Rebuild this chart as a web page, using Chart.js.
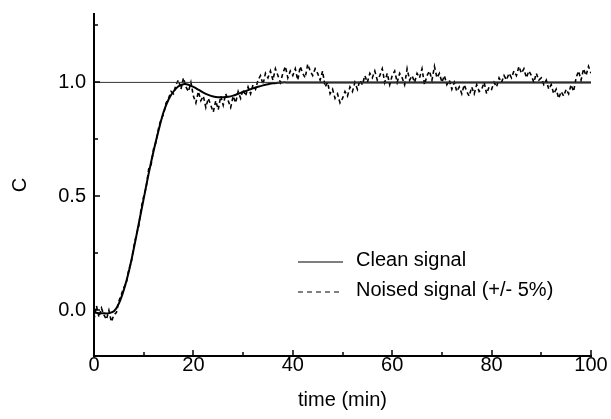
<!DOCTYPE html>
<html>
<head>
<meta charset="utf-8">
<script src="https://cdn.jsdelivr.net/npm/chart.js@4.4.0/dist/chart.umd.min.js"></script>
<style>
html, body { margin: 0; padding: 0; background: #fff; }
#wrap { width: 611px; height: 419px; position: relative; }
</style>
</head>
<body>
<div id="wrap"><canvas id="stepChart"></canvas></div>
<script>
// Clean signal
const cleanTime = [0, 1, 2, 3, 4, 5, 6, 7, 8, 9, 10, 11, 12, 13, 14, 15, 16, 17, 18, 19, 20,
    21, 22, 23, 24, 25, 26, 27, 28, 29, 30, 31, 32, 33, 34, 35, 36, 37, 38, 39, 40,
    50, 60, 70, 80, 90, 100];
const cleanValues = [-0.01, -0.012, -0.013, -0.012, -0.004, 0.03, 0.09, 0.17, 0.27, 0.38, 0.49,
    0.60, 0.70, 0.79, 0.87, 0.925, 0.96, 0.983, 0.992, 0.99, 0.98,
    0.968, 0.955, 0.945, 0.938, 0.935, 0.935, 0.937, 0.942, 0.95, 0.958,
    0.966, 0.974, 0.981, 0.987, 0.992, 0.996, 0.998, 1.0, 1.0, 1.0,
    1.0, 1.0, 1.0, 1.0, 1.0, 1.0];

// Noised signal, one reading every half minute from 0 to 100
const noiseStep = 0.5;
const noisedValues = [
    -0.04, 0.02, -0.03, 0.01, -0.02, -0.04, 0.00, -0.05, -0.02, -0.01,
    0.04, 0.07, 0.10, 0.12, 0.18, 0.21, 0.28, 0.33, 0.37, 0.45,
    0.50, 0.54, 0.62, 0.64, 0.71, 0.74, 0.80, 0.84, 0.86, 0.91,
    0.93, 0.96, 0.95, 0.99, 1.01, 0.97, 1.02, 0.98, 0.96, 1.00,
    0.94, 0.91, 0.96, 0.92, 0.94, 0.89, 0.93, 0.90, 0.87, 0.92,
    0.88, 0.94, 0.90, 0.95, 0.92, 0.89, 0.94, 0.91, 0.96, 0.93,
    0.97, 0.94, 0.98, 0.95, 0.99, 0.97, 1.01, 1.03, 0.99, 1.04,
    1.02, 1.05, 1.01, 1.06, 1.03, 1.00, 1.04, 1.07, 1.02, 1.05,
    1.03, 1.06, 1.01, 1.07, 1.04, 1.02, 1.08, 1.05, 1.03, 1.06,
    1.04, 1.01, 1.05, 0.98, 1.00, 0.95, 0.97, 0.93, 0.95, 0.91,
    0.93, 0.96, 0.94, 0.98, 0.96, 1.00, 0.97, 1.01, 0.99, 1.03,
    1.00, 1.04, 1.02, 1.05, 1.01, 1.03, 1.06, 1.00, 1.04, 0.99,
    1.03, 1.05, 1.00, 1.04, 1.02, 0.99, 1.06, 1.01, 1.03, 1.00,
    1.04, 1.02, 1.06, 0.99, 1.03, 1.05, 1.01, 1.07, 1.02, 1.04,
    1.00, 1.03, 0.99, 1.01, 0.97, 1.00, 0.96, 0.98, 0.95, 0.99,
    0.96, 0.94, 0.98, 0.95, 0.99, 0.96, 0.97, 1.00, 0.95, 0.98,
    0.97, 1.00, 0.98, 1.02, 1.00, 1.03, 1.01, 1.04, 1.02, 1.05,
    1.03, 1.07, 1.04, 1.06, 1.02, 1.05, 1.03, 1.00, 1.04, 1.01,
    1.02, 0.99, 1.01, 0.97, 0.99, 0.95, 0.97, 0.93, 0.96, 0.94,
    0.97, 0.95, 0.99, 0.96, 1.02, 1.05, 1.01, 1.06, 1.03, 1.07,
    1.04
];

// Reference level and axes
const refTime = [0, 100];
const refValues = [1.0, 1.0];
const xMajorTicks = [0, 20, 40, 60, 80, 100];
const xMinorTicks = [10, 30, 50, 70, 90];
const yMajorTicks = [0, 0.5, 1.0];
const yMinorTicks = [0.25, 0.75, 1.25];
const legendLabels = ['Clean signal', 'Noised signal (+/- 5%)'];

Chart.defaults.font.family = "'Liberation Sans', Arial, Helvetica, sans-serif";
Chart.defaults.font.size = 20;
Chart.defaults.color = '#000';

// Tick marks pointing into the plot
const innerTicks = {
    id: 'innerTicks',
    afterDraw(chart) {
        const { ctx, scales: { x, y } } = chart;
        const base = y.bottom;
        const left = x.left;
        ctx.save();
        ctx.strokeStyle = '#000';
        ctx.lineWidth = 1.5;
        ctx.beginPath();
        xMajorTicks.forEach(v => {
            const px = Math.round(x.getPixelForValue(v));
            ctx.moveTo(px, base); ctx.lineTo(px, base - 6);
        });
        xMinorTicks.forEach(v => {
            const px = Math.round(x.getPixelForValue(v));
            ctx.moveTo(px, base); ctx.lineTo(px, base - 4);
        });
        yMajorTicks.forEach(v => {
            const py = Math.round(y.getPixelForValue(v));
            ctx.moveTo(left, py); ctx.lineTo(left + 6, py);
        });
        yMinorTicks.forEach(v => {
            const py = Math.round(y.getPixelForValue(v));
            ctx.moveTo(left, py); ctx.lineTo(left + 4, py);
        });
        ctx.stroke();
        ctx.restore();
    }
};

// Legend inside the plot area
const insideLegend = {
    id: 'insideLegend',
    afterDraw(chart) {
        const { ctx, chartArea } = chart;
        const lx = chartArea.left + 204;
        const rows = [chartArea.top + 248, chartArea.top + 278];
        ctx.save();
        ctx.strokeStyle = '#000';
        ctx.lineWidth = 1.2;
        ctx.beginPath();
        ctx.moveTo(lx, rows[0]); ctx.lineTo(lx + 45, rows[0]);
        ctx.stroke();
        ctx.setLineDash([5, 4]);
        ctx.beginPath();
        ctx.moveTo(lx, rows[1]); ctx.lineTo(lx + 45, rows[1]);
        ctx.stroke();
        ctx.setLineDash([]);
        ctx.fillStyle = '#000';
        ctx.font = "20px 'Liberation Sans', Arial, sans-serif";
        ctx.textBaseline = 'middle';
        ctx.fillText(legendLabels[0], lx + 58, rows[0] - 2);
        ctx.fillText(legendLabels[1], lx + 58, rows[1] - 2);
        ctx.restore();
    }
};

const stepChart = new Chart(document.getElementById('stepChart'), {
    type: 'line',
    data: {
        datasets: [{
            label: 'Reference',
            data: refTime.map((t, i) => ({ x: t, y: refValues[i] })),
            borderColor: '#333',
            borderWidth: 1,
            pointRadius: 0
        }, {
            label: legendLabels[1],
            data: noisedValues.map((v, i) => ({ x: i * noiseStep, y: v })),
            borderColor: '#000',
            borderWidth: 1.6,
            borderDash: [4, 3],
            pointRadius: 0,
            tension: 0
        }, {
            label: legendLabels[0],
            data: cleanTime.map((t, i) => ({ x: t, y: cleanValues[i] })),
            borderColor: '#000',
            borderWidth: 2,
            pointRadius: 0,
            tension: 0.35
        }]
    },
    options: {
        responsive: true,
        maintainAspectRatio: false,
        animation: false,
        devicePixelRatio: 1,
        layout: { padding: { top: 14, right: 20, left: 0, bottom: 0 } },
        plugins: {
            legend: { display: false },
            tooltip: { enabled: false }
        },
        scales: {
            x: {
                type: 'linear',
                min: 0,
                max: 100,
                afterBuildTicks: s => { s.ticks = xMajorTicks.map(v => ({ value: v })); },
                afterFit: s => { s.height = 63; },
                grid: { display: false, drawTicks: false },
                border: { display: true, color: '#000', width: 2 },
                ticks: { padding: -3, maxRotation: 0, font: { size: 20 } },
                title: { display: true, text: 'time (min)', font: { size: 20 }, padding: { top: 0, bottom: 7 } }
            },
            y: {
                min: -0.2,
                max: 1.3,
                afterBuildTicks: s => { s.ticks = yMajorTicks.map(v => ({ value: v })); },
                afterFit: s => { s.width = 94; s.paddingTop = 0; s.paddingBottom = 0; },
                grid: { display: false, drawTicks: false },
                border: { display: true, color: '#000', width: 2 },
                ticks: { padding: 8, font: { size: 20 }, callback: v => v.toFixed(1) },
                title: { display: true, text: 'C', font: { size: 20 }, padding: { top: 8, bottom: 0 } }
            }
        }
    },
    plugins: [innerTicks, insideLegend]
});
</script>
</body>
</html>
